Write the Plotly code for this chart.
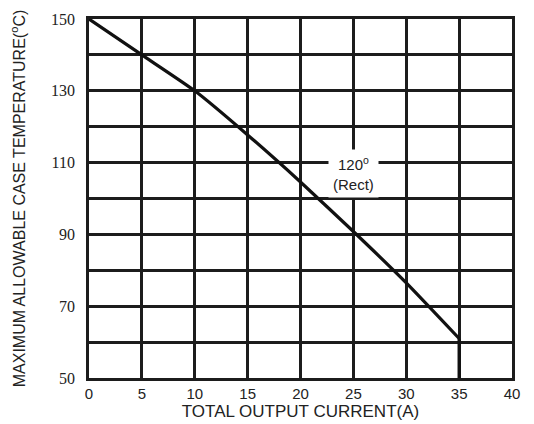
import plotly.graph_objects as go

current = [0, 5, 10, 15, 20, 25, 30, 35]
case_temp = [150, 140, 130, 117.7, 104.6, 90.8, 76.5, 61]
drop_x = [35, 35]
drop_y = [61, 50]

x_ticks = [0, 5, 10, 15, 20, 25, 30, 35, 40]
y_ticks = [50, 70, 90, 110, 130, 150]

fig = go.Figure()
fig.add_trace(go.Scatter(x=current, y=case_temp, mode="lines",
                         line=dict(color="#111111", width=3.2, shape="spline", smoothing=0.5),
                         showlegend=False, hoverinfo="skip"))
fig.add_trace(go.Scatter(x=drop_x, y=drop_y, mode="lines",
                         line=dict(color="#111111", width=3.2),
                         showlegend=False, hoverinfo="skip"))

fig.add_annotation(x=25, y=107.1, xref="x", yref="y",
                   text="120<sup>o</sup><br>(Rect)", showarrow=False,
                   font=dict(family="Liberation Sans", size=15, color="#222222"),
                   bgcolor="white", borderpad=4, align="center")

grid_col = "#1c1c1c"
fig.update_xaxes(range=[0, 40], tickvals=x_ticks, ticktext=[str(v) for v in x_ticks],
                 showgrid=True, gridcolor=grid_col, gridwidth=2.6,
                 showline=True, linecolor=grid_col, linewidth=2.6, mirror=True,
                 zeroline=False, ticks="", ticklabelstandoff=0, automargin=False,
                 tickfont=dict(family="Liberation Sans", size=15, color="#222222"),
                 title=dict(text="TOTAL OUTPUT CURRENT(A)", standoff=4,
                            font=dict(family="Liberation Sans", size=17, color="#222222")))
fig.update_yaxes(range=[50, 150], tickvals=y_ticks, ticktext=[str(v) for v in y_ticks],
                 showgrid=True, gridcolor=grid_col, gridwidth=2.6,
                 minor=dict(tickvals=[60, 80, 100, 120, 140], showgrid=True,
                            gridcolor=grid_col, gridwidth=2.6),
                 showline=True, linecolor=grid_col, linewidth=2.6, mirror=True,
                 zeroline=False, ticks="", ticklabelstandoff=8, automargin=False,
                 tickfont=dict(family="Liberation Serif", size=16, color="#222222"),
                 title=dict(text="MAXIMUM ALLOWABLE CASE TEMPERATURE(<sup>o</sup>C)", standoff=30,
                            font=dict(family="Liberation Sans", size=16, color="#222222")))

fig.update_layout(width=526, height=416, margin=dict(l=81, r=22, t=11, b=46),
                  paper_bgcolor="white", plot_bgcolor="white")

fig.write_html("out.html")
